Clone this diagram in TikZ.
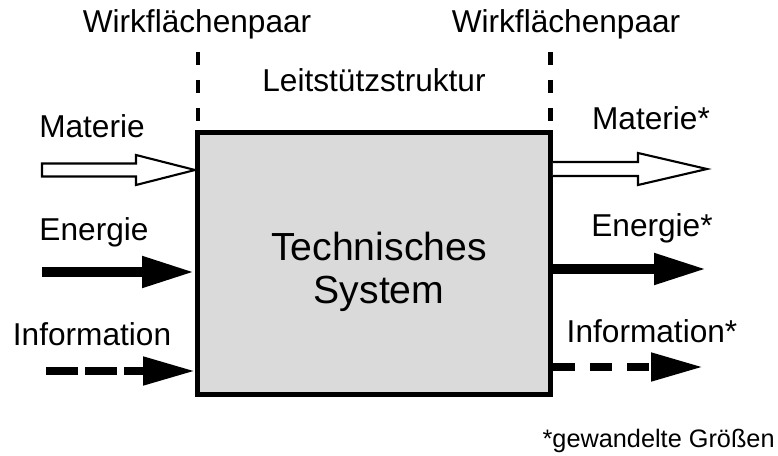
\documentclass[tikz,border=0pt]{standalone}
\usepackage{fontspec}
\setmainfont{Liberation Sans}
\usepackage{tikz}
\usetikzlibrary{arrows.meta,calc}
\definecolor{boxgray}{rgb}{0.855,0.855,0.855}
\definecolor{myblack}{rgb}{0.000,0.000,0.000}
\definecolor{mywhite}{rgb}{1.000,1.000,1.000}
\tikzstyle{label}=[inner sep=0pt,anchor=base,font=\fontsize{18}{21}\selectfont]
\tikzstyle{system}=[draw=myblack,fill=boxgray,line width=2.85pt,inner sep=0pt,
  minimum width=7.06cm,minimum height=5.24cm]
\tikzstyle{systext}=[inner sep=0pt,align=center,font=\fontsize{22.3}{24.2}\selectfont]
\tikzstyle{interface}=[draw=myblack,line width=2.3pt,dash pattern=on 7.4pt off 8.5pt]
\tikzstyle{matter}=[draw=myblack,fill=mywhite,line width=1.2pt,line join=miter]
\tikzstyle{energy}=[draw=myblack,line width=6pt,-{Triangle[length=1.06cm,width=0.58cm]}]
\tikzstyle{info}=[draw=myblack,line width=4.5pt,-{Triangle[length=1.04cm,width=0.54cm]}]

\begin{document}
\begin{tikzpicture}[x=0.02cm,y=-0.02cm]
\useasboundingbox (0,0) rectangle (778,456);
% the system box
\node [style=system] (sys) at (374,263.5) {};
\node [style=systext] (sysname) at (379,272) {Technisches\\System};
% interfaces above the box
\coordinate (ifL1) at (198,52);
\coordinate (ifL2) at (198,121);
\coordinate (ifR1) at (550.5,52);
\coordinate (ifR2) at (550.5,121);
\draw [style=interface] (ifL1) to (ifL2);
\draw [style=interface] (ifR1) to (ifR2);
\node [style=label] (wfpL) at (197,33) {Wirkflächenpaar};
\node [style=label] (wfpR) at (566,33) {Wirkflächenpaar};
\node [style=label] (lss) at (374,92) {Leitstützstruktur};
% inputs
\node [style=label] (matL) at (92,137) {Materie};
\node [style=label] (eneL) at (94,240) {Energie};
\node [style=label] (infL) at (92,345) {Information};
\coordinate (mIn) at (42,170);
\coordinate (mInH) at (136,170);
\coordinate (mInT) at (sys.west |- mIn);
\draw [style=matter] ($(mIn)+(0,-6.5)$) -- ($(mInH)+(0,-6.5)$) -- ($(mInH)+(0,-15)$)
  -- (mInT) -- ($(mInH)+(0,15)$) -- ($(mInH)+(0,6.5)$) -- ($(mIn)+(0,6.5)$) -- cycle;
\coordinate (eIn) at (42,272);
\draw [style=energy] (eIn) to (sys.west |- eIn);
\coordinate (iIn) at (46,371);
\draw [style=info,dash pattern=on 18.2pt off 4pt] (iIn) to (sys.west |- iIn);
% outputs
\node [style=label] (matR) at (651,130) {Materie*};
\node [style=label] (eneR) at (652,236) {Energie*};
\node [style=label] (infR) at (652,342) {Information*};
\coordinate (mOut) at (sys.east |- 0,169);
\coordinate (mOutH) at (638,169);
\coordinate (mOutT) at (707,169);
\draw [style=matter] ($(mOut)+(0,-7)$) -- ($(mOutH)+(0,-7)$) -- ($(mOutH)+(0,-16)$)
  -- (mOutT) -- ($(mOutH)+(0,16)$) -- ($(mOutH)+(0,7)$) -- ($(mOut)+(0,7)$);
\coordinate (eOut) at (707,269);
\draw [style=energy] (sys.east |- eOut) to (eOut);
\coordinate (iOut) at (703,367);
\draw [style=info,dash pattern=on 12.5pt off 8.5pt] (sys.east |- iOut) to (iOut);
% footnote
\node [inner sep=0pt,anchor=base east,font=\fontsize{14.4}{16}\selectfont] (note) at (775,447) {*gewandelte Größen};
\end{tikzpicture}
\end{document}
